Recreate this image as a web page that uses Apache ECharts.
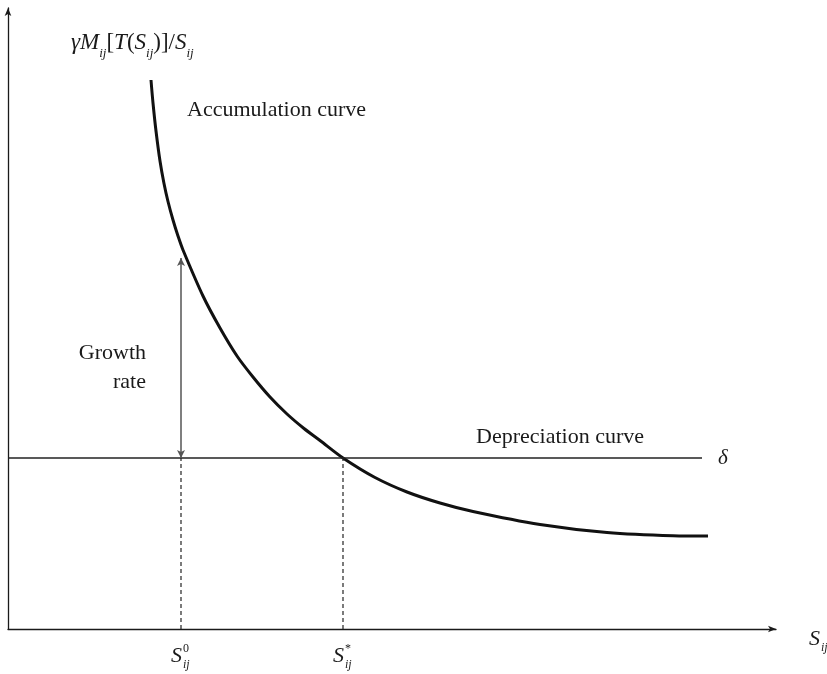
<!DOCTYPE html>
<html>
<head>
<meta charset="utf-8">
<script src="https://cdn.jsdelivr.net/npm/echarts@6/dist/echarts.min.js"></script>
<style>
  html, body { margin: 0; padding: 0; background: #fff; }
  #main { width: 827px; height: 674px; }
</style>
</head>
<body>
<div id="main"></div>
<script>
// curve (x = stock S_ij, y = growth rate), units are arbitrary
const curveX = [143, 145, 148, 152, 156, 160, 165, 170, 175, 195, 212, 229, 245, 262, 279, 296, 312, 335, 367, 399, 432, 465, 532, 599, 665, 700];
const curveY = [549, 526, 498, 468, 445.5, 427.5, 409, 393, 379, 333, 301, 273, 252, 232, 215, 200.5, 188.5, 171, 151.5, 137, 126, 117.5, 104.5, 96.5, 93.3, 93];
const deltaLevel = 171;     // depreciation rate
const deltaEnd = 694;
const sZero = 173;          // S_ij^0
const sStar = 335;          // S_ij^*
const growthTop = 371;      // top of the growth-rate arrow
const xMax = 768;
const yMax = 621;

const SERIF = '"Liberation Serif", "DejaVu Serif", serif';
const INK = '#1a1a1a';

const chart = echarts.init(document.getElementById('main'));

// S with stacked sub/superscript
function sym(cx, cy, sup, size) {
  const kids = [
    { type: 'text', x: cx, y: cy, style: { text: 'S', font: 'italic ' + size + 'px ' + SERIF, fill: INK, align: 'right', verticalAlign: 'middle' } },
    { type: 'text', x: cx + 1, y: cy + size * 0.42, style: { text: 'ij', font: 'italic ' + Math.round(size * 0.55) + 'px ' + SERIF, fill: INK, align: 'left', verticalAlign: 'middle' } }
  ];
  if (sup) {
    kids.push({ type: 'text', x: cx + 1, y: cy - size * 0.32, style: { text: sup, font: Math.round(size * 0.55) + 'px ' + SERIF, fill: INK, align: 'left', verticalAlign: 'middle' } });
  }
  return { type: 'group', silent: true, children: kids };
}

chart.setOption({
  animation: false,
  backgroundColor: '#fff',
  grid: { left: 8, right: 51, top: 8, bottom: 45 },
  xAxis: {
    type: 'value', min: 0, max: xMax,
    axisLine: { show: true, symbol: ['none', 'arrow'], symbolSize: [5, 8], lineStyle: { color: INK, width: 1.3 } },
    axisTick: { show: false }, axisLabel: { show: false }, splitLine: { show: false }
  },
  yAxis: {
    type: 'value', min: 0, max: yMax,
    axisLine: { show: true, symbol: ['none', 'arrow'], symbolSize: [5, 8], lineStyle: { color: INK, width: 1.3 } },
    axisTick: { show: false }, axisLabel: { show: false }, splitLine: { show: false }
  },
  series: [
    {
      name: 'Accumulation curve',
      type: 'line',
      data: curveX.map((x, i) => [x, curveY[i]]),
      smooth: 0.3,
      showSymbol: false,
      lineStyle: { color: '#111', width: 3 }
    },
    {
      name: 'Depreciation curve',
      type: 'line',
      data: [[0, deltaLevel], [deltaEnd, deltaLevel]],
      showSymbol: false,
      lineStyle: { color: '#222', width: 1.3 },
      endLabel: {
        show: true, formatter: 'δ', distance: 16,
        fontFamily: SERIF, fontStyle: 'italic', fontSize: 21, color: INK
      }
    },
    {
      name: 'S0',
      type: 'line',
      data: [[sZero, 0], [sZero, deltaLevel]],
      showSymbol: false,
      lineStyle: { color: '#222', width: 1.2, type: [4, 3] }
    },
    {
      name: 'Sstar',
      type: 'line',
      data: [[sStar, 0], [sStar, deltaLevel]],
      showSymbol: false,
      lineStyle: { color: '#222', width: 1.2, type: [4, 3] },
      markLine: {
        silent: true,
        symbol: ['arrow', 'arrow'],
        symbolSize: [6, 8],
        label: { show: false },
        lineStyle: { color: '#555', width: 1.5, type: 'solid' },
        data: [[{ coord: [sZero, deltaLevel] }, { coord: [sZero, growthTop] }]]
      }
    }
  ]
});

const px = (x, y) => chart.convertToPixel({ gridIndex: 0 }, [x, y]);
const p0 = px(sZero, 0);
const pS = px(sStar, 0);
const pEnd = px(xMax, 0);
const pTop = px(0, yMax);
const pGrowth = px(sZero, (deltaLevel + growthTop) / 2);
const pDelta = px(deltaEnd, deltaLevel);

const txt = (x, y, text, align, size) => ({
  type: 'text', x: x, y: y, silent: true,
  style: { text: text, font: (size || 22) + 'px ' + SERIF, fill: INK, align: align || 'left', verticalAlign: 'middle' }
});

chart.setOption({
  graphic: [
    {
      type: 'text', x: pTop[0] + 63, y: pTop[1] + 39, silent: true,
      style: {
        text: '{i|γM}{s|ij}{n|[}{i|T}{n|(}{i|S}{s|ij}{n|)]/}{i|S}{s|ij}',
        verticalAlign: 'middle',
        rich: {
          i: { fontFamily: SERIF, fontStyle: 'italic', fontSize: 23, fill: INK, lineHeight: 32, verticalAlign: 'top' },
          n: { fontFamily: SERIF, fontSize: 23, fill: INK, lineHeight: 32, verticalAlign: 'top' },
          s: { fontFamily: SERIF, fontStyle: 'italic', fontSize: 13, fill: INK, lineHeight: 32, padding: [16, 0, 0, 0], verticalAlign: 'top' }
        }
      }
    },
    txt(187, 110, 'Accumulation curve', 'left', 22),
    txt(146, pGrowth[1] - 5, 'Growth', 'right', 22),
    txt(146, pGrowth[1] + 24, 'rate', 'right', 22),
    txt(pDelta[0] - 58, pDelta[1] - 21, 'Depreciation curve', 'right', 22),
    sym(p0[0] + 1, p0[1] + 27, '0', 22),
    sym(pS[0] + 1, pS[1] + 27, '*', 22),
    sym(pEnd[0] + 44, pEnd[1] + 10, null, 22)
  ]
});
</script>
</body>
</html>
